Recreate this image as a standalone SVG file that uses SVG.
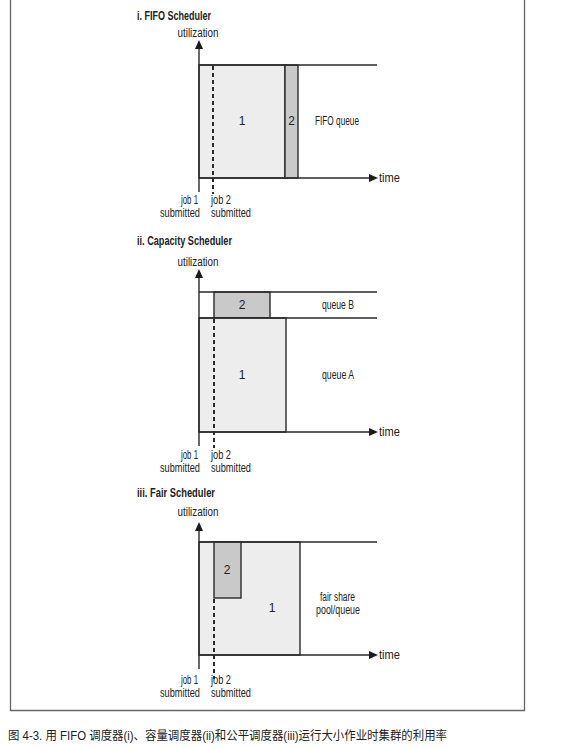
<svg xmlns="http://www.w3.org/2000/svg" width="563" height="747" viewBox="0 0 563 747">
<defs>
<style>
.t{font-family:"Liberation Sans",Arial,sans-serif;font-size:12px;fill:#222}
.b{font-weight:bold;font-size:12px}
.c{text-anchor:middle}
.e{text-anchor:end}
.ln{stroke:#2a2a2a;stroke-width:1.4;fill:none}
.dash{stroke:#2a2a2a;stroke-width:2;stroke-dasharray:4 3;fill:none}
.j1{fill:#ededed;stroke:#2a2a2a;stroke-width:1.4}
.j2{fill:#c9c9c9;stroke:#2a2a2a;stroke-width:1.4}
.ah{fill:#1a1a1a}
.cap{font-family:"Liberation Sans","Noto Sans CJK SC",sans-serif;font-size:12.5px;fill:#222}
</style>
</defs>
<rect width="563" height="747" fill="#fff"/>
<g id="frame"><path d="M10.5,-2 V710.5 H524.5 V-2" fill="none" stroke="#666" stroke-width="1.3"/></g>

<!-- Panel i -->
<g id="panel-fifo">
<text class="t b" x="137" y="20" textLength="74" lengthAdjust="spacingAndGlyphs">i. FIFO Scheduler</text>
<text class="t c" x="198" y="37" textLength="41" lengthAdjust="spacingAndGlyphs">utilization</text>
<g id="fifo-job1"><rect class="j1" x="199" y="65" width="86" height="113"/><text class="t c" x="242" y="125">1</text></g>
<g id="fifo-job2"><rect class="j2" x="285" y="65" width="13" height="113"/><text class="t c" x="291.5" y="125">2</text></g>
<text class="t" x="315" y="125" textLength="44" lengthAdjust="spacingAndGlyphs">FIFO queue</text>
<text class="t" x="379" y="182" textLength="21" lengthAdjust="spacingAndGlyphs">time</text>
<text class="t e" x="198" y="204" textLength="17" lengthAdjust="spacingAndGlyphs">job 1</text>
<text class="t e" x="200" y="217" textLength="40" lengthAdjust="spacingAndGlyphs">submitted</text>
<text class="t" x="211" y="204" textLength="20" lengthAdjust="spacingAndGlyphs">job 2</text>
<text class="t" x="211" y="217" textLength="40" lengthAdjust="spacingAndGlyphs">submitted</text>
</g>

<!-- Panel ii -->
<g id="panel-capacity">
<text class="t b" x="137" y="245" textLength="95" lengthAdjust="spacingAndGlyphs">ii. Capacity Scheduler</text>
<text class="t c" x="198" y="266" textLength="41" lengthAdjust="spacingAndGlyphs">utilization</text>
<g id="cap-job2"><rect class="j2" x="214" y="292" width="56" height="26"/><text class="t c" x="242" y="309">2</text></g>
<g id="cap-job1"><rect class="j1" x="199" y="318" width="87" height="114"/><text class="t c" x="242" y="379">1</text></g>
<text class="t" x="322" y="309" textLength="32" lengthAdjust="spacingAndGlyphs">queue B</text>
<text class="t" x="322" y="379" textLength="32" lengthAdjust="spacingAndGlyphs">queue A</text>
<text class="t" x="379" y="436" textLength="21" lengthAdjust="spacingAndGlyphs">time</text>
<text class="t e" x="198" y="459" textLength="17" lengthAdjust="spacingAndGlyphs">job 1</text>
<text class="t e" x="200" y="472" textLength="40" lengthAdjust="spacingAndGlyphs">submitted</text>
<text class="t" x="211" y="459" textLength="20" lengthAdjust="spacingAndGlyphs">job 2</text>
<text class="t" x="211" y="472" textLength="40" lengthAdjust="spacingAndGlyphs">submitted</text>
</g>

<!-- Panel iii -->
<g id="panel-fair">
<text class="t b" x="137" y="497" textLength="78" lengthAdjust="spacingAndGlyphs">iii. Fair Scheduler</text>
<text class="t c" x="198" y="516" textLength="41" lengthAdjust="spacingAndGlyphs">utilization</text>
<g id="fair-job1"><rect class="j1" x="199" y="542" width="101" height="113"/><text class="t c" x="272" y="612">1</text></g>
<g id="fair-job2"><rect class="j2" x="214" y="542" width="27" height="56"/><text class="t c" x="227" y="574">2</text></g>
<text class="t" x="320" y="601" textLength="35" lengthAdjust="spacingAndGlyphs">fair share</text>
<text class="t" x="316" y="614" textLength="44" lengthAdjust="spacingAndGlyphs">pool/queue</text>
<text class="t" x="379" y="659" textLength="21" lengthAdjust="spacingAndGlyphs">time</text>
<text class="t e" x="198" y="684" textLength="17" lengthAdjust="spacingAndGlyphs">job 1</text>
<text class="t e" x="200" y="697" textLength="40" lengthAdjust="spacingAndGlyphs">submitted</text>
<text class="t" x="211" y="684" textLength="20" lengthAdjust="spacingAndGlyphs">job 2</text>
<text class="t" x="211" y="697" textLength="40" lengthAdjust="spacingAndGlyphs">submitted</text>
</g>

<g id="connectors">
<!-- panel i -->
<path class="ln" d="M199,47 V192 M199,65 H377 M199,178 H369"/>
<path class="ah" d="M199,40 L195,49 H203 Z M378,178 L369,174 V182 Z"/>
<path class="dash" d="M213,66 V194"/>
<!-- panel ii -->
<path class="ln" d="M199,276 V446 M199,292 H377 M199,318 H377 M199,432 H369"/>
<path class="ah" d="M199,269 L195,278 H203 Z M378,432 L369,428 V436 Z"/>
<path class="dash" d="M214,319 V448"/>
<!-- panel iii -->
<path class="ln" d="M199,529 V669 M199,542 H377 M199,655 H369"/>
<path class="ah" d="M199,522 L195,531 H203 Z M378,655 L369,651 V659 Z"/>
<path class="dash" d="M214,599 V679"/>
</g>

<text class="cap" x="8" y="740" textLength="439" lengthAdjust="spacingAndGlyphs">图 4-3. 用 FIFO 调度器(i)、容量调度器(ii)和公平调度器(iii)运行大小作业时集群的利用率</text>
</svg>
